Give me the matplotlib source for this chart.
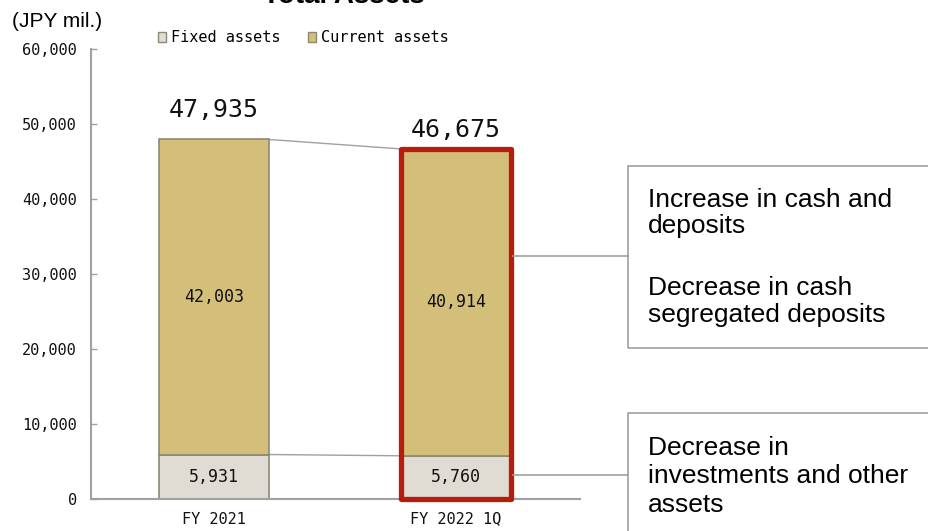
#!/usr/bin/env python3
# -*- coding: utf-8 -*-

import matplotlib
matplotlib.use("Agg")
import matplotlib.pyplot as plt
from matplotlib.patches import Patch, Rectangle
from matplotlib.lines import Line2D
from matplotlib.ticker import FuncFormatter

# Balance sheet data (JPY mil.)
categories = ["FY 2021", "FY 2022 1Q"]
fixed_assets = [5931, 5760]
current_assets = [42003, 40914]
totals = [47935, 46675]
legend_labels = ["Fixed assets", "Current assets"]

callout_top = ["Increase in cash and", "deposits", "Decrease in cash", "segregated deposits"]
callout_bottom = ["Decrease in", "investments and other", "assets"]

W, H = 929, 531
MONO = "DejaVu Sans Mono"
SANS = "Liberation Sans"

fixed_color = "#e0dcd4"
current_color = "#d3bf7a"
bar_edge = "#8c8a72"
grid_gray = "#a0a0a0"
red = "#b81c0c"


def fx(x):
    return x / W


def fy(y):
    return 1 - y / H


fig = plt.figure(figsize=(W / 100, H / 100), dpi=100)
ax = fig.add_axes([fx(91), fy(499), (580 - 91) / W, (499 - 49) / H])

x = list(range(len(categories)))
width = 0.455

ax.bar(x, fixed_assets, width=width, color=fixed_color, edgecolor=bar_edge,
       linewidth=1.2, label=legend_labels[0], zorder=2)
ax.bar(x, current_assets, width=width, bottom=fixed_assets, color=current_color,
       edgecolor=bar_edge, linewidth=1.2, label=legend_labels[1], zorder=2)

# connecting lines between bars
ax.plot([x[0] + width / 2, x[1] - width / 2], totals, color=grid_gray, lw=1, zorder=1)
ax.plot([x[0] + width / 2, x[1] - width / 2], fixed_assets, color=grid_gray, lw=1, zorder=1)

# highlight frame on latest bar
ax.add_patch(Rectangle((x[1] - width / 2, 0), width, totals[1], fill=False,
                       edgecolor=red, lw=3.8, joinstyle="round", zorder=5, clip_on=False))

# segment labels
for i in x:
    ax.text(i, fixed_assets[i] / 2, f"{fixed_assets[i]:,}", ha="center", va="center",
            family=MONO, fontsize=12, color="#111111", zorder=6)
    ax.text(i, fixed_assets[i] + current_assets[i] / 2, f"{current_assets[i]:,}",
            ha="center", va="center", family=MONO, fontsize=12, color="#111111", zorder=6)

# total labels
label_offsets = [16, 8.5]
for i in x:
    ax.annotate(f"{totals[i]:,}", (i, totals[i]), xytext=(0, label_offsets[i]),
                textcoords="offset points", ha="center", va="baseline",
                family=MONO, fontsize=18, color="#111111")

ax.set_xlim(-0.508, 1.512)
ax.set_ylim(0, 60000)
ax.set_yticks(range(0, 60001, 10000))
ax.yaxis.set_major_formatter(FuncFormatter(lambda v, p: f"{int(v):,}"))
ax.set_xticks(x)
ax.set_xticklabels(categories)
ax.tick_params(axis="y", direction="in", length=4, width=1, color=grid_gray, pad=10,
               labelsize=11)
ax.tick_params(axis="x", length=0, pad=9, labelsize=11)
for lab in ax.get_xticklabels() + ax.get_yticklabels():
    lab.set_family(MONO)
    lab.set_color("#111111")

for s in ["top", "right"]:
    ax.spines[s].set_visible(False)
for s in ["left", "bottom"]:
    ax.spines[s].set_color(grid_gray)
    ax.spines[s].set_linewidth(1.5)

handles = [Patch(facecolor=fixed_color, edgecolor=bar_edge, lw=1),
           Patch(facecolor=current_color, edgecolor=bar_edge, lw=1)]
fig.legend(handles, legend_labels, loc="center left", bbox_to_anchor=(fx(158), fy(38)),
           ncol=2, frameon=False, handlelength=0.55, handleheight=0.55,
           handletextpad=0.3, columnspacing=1.8, borderpad=0, borderaxespad=0,
           prop={"family": MONO, "size": 11})

# titles
fig.text(fx(344), fy(3), "Total Assets", ha="center", va="baseline",
         family=SANS, fontsize=20, fontweight="bold")
fig.text(fx(12), fy(27), "(JPY mil.)", ha="left", va="baseline", family=SANS, fontsize=15)

# callout boxes and connectors
box_lw = 1.2
fig.add_artist(Rectangle((fx(628), fy(348)), (960 - 628) / W, (348 - 166) / H,
                         transform=fig.transFigure, fill=False, edgecolor=grid_gray,
                         lw=box_lw, clip_on=False))
fig.add_artist(Rectangle((fx(628), fy(560)), (960 - 628) / W, (560 - 413) / H,
                         transform=fig.transFigure, fill=False, edgecolor=grid_gray,
                         lw=box_lw, clip_on=False))
fig.add_artist(Line2D([fx(513), fx(628)], [fy(256), fy(256)], transform=fig.transFigure,
                      color=grid_gray, lw=1.2))
fig.add_artist(Line2D([fx(513), fx(628)], [fy(475), fy(475)], transform=fig.transFigure,
                      color=grid_gray, lw=1.2))

top_baselines = [207, 233, 295, 322]
for txt, yb in zip(callout_top, top_baselines):
    fig.text(fx(648), fy(yb), txt, ha="left", va="baseline", family=SANS, fontsize=19)
bottom_baselines = [455, 483, 512]
for txt, yb in zip(callout_bottom, bottom_baselines):
    fig.text(fx(648), fy(yb), txt, ha="left", va="baseline", family=SANS, fontsize=19)

fig.savefig("out.png", dpi=100)
